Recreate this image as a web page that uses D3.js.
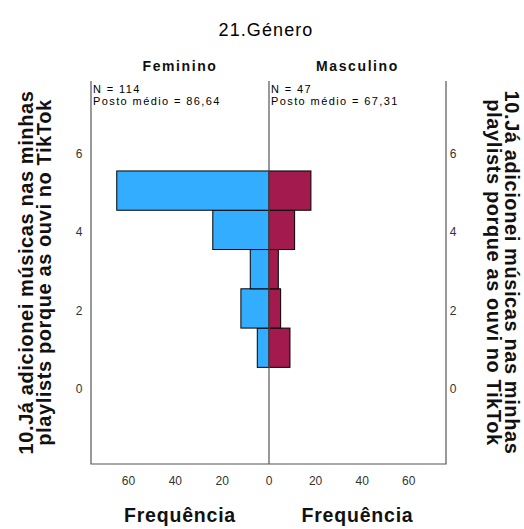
<!DOCTYPE html>
<html>
<head>
<meta charset="utf-8">
<script src="https://cdn.jsdelivr.net/npm/d3@7"></script>
<style>
body{margin:0;background:#fff}
text{font-family:"Liberation Sans",Arial,sans-serif}
</style>
</head>
<body>
<script>
// values
const categories=[1,2,3,4,5];
const feminino=[5,12,8,24,65];
const masculino=[9,5,4,11,18];
const groups=["Feminino","Masculino"];
const stats=[["N = 114","Posto médio = 86,64"],["N = 47","Posto médio = 67,31"]];
const yTicks=[0,2,4,6];
const xTicks=[0,20,40,60];
const title="21.Género";
const yTitle=["10.Já adicionei músicas nas minhas","playlists porque as ouvi no TikTok"];
const xTitle="Frequência";

const W=524,H=529;
const svg=d3.select("body").append("svg").attr("width",W).attr("height",H);

const y=d3.scaleLinear().domain([-1.96,7.79]).range([464,81]);
const xl=d3.scaleLinear().domain([0,76]).range([269,91]);
const xr=d3.scaleLinear().domain([0,76]).range([269,446]);

const blue="#33adff", maroon="#a21a4e";

// bars
const g=svg.append("g");
g.selectAll("rect.f").data(categories).enter().append("rect")
  .attr("x",(d,i)=>xl(feminino[i]))
  .attr("y",d=>y(d+0.5))
  .attr("width",(d,i)=>xl(0)-xl(feminino[i]))
  .attr("height",d=>y(d-0.5)-y(d+0.5))
  .attr("fill",blue).attr("stroke","#000").attr("stroke-width",1);
g.selectAll("rect.m").data(categories).enter().append("rect")
  .attr("x",xr(0))
  .attr("y",d=>y(d+0.5))
  .attr("width",(d,i)=>xr(masculino[i])-xr(0))
  .attr("height",d=>y(d-0.5)-y(d+0.5))
  .attr("fill",maroon).attr("stroke","#000").attr("stroke-width",1);

// frame
const frame="#555";
svg.append("path")
  .attr("d",`M${xl(76)},${y(7.79)}V${y(-1.96)}H${xr(76)}V${y(7.79)}M${xr(0)},${y(7.79)}V${y(-1.96)}`)
  .attr("fill","none").attr("stroke",frame).attr("stroke-width",1.2);

// y tick labels, both sides
[79,453].forEach(px=>{
  svg.selectAll(null).data(yTicks).enter().append("text")
    .attr("x",px).attr("y",d=>y(d)+6.3)
    .attr("text-anchor","middle").attr("font-size",12).attr("fill","#333")
    .text(d=>d);
});

// x tick labels
[xl,xr].forEach((sc,k)=>{
  svg.selectAll(null).data(k===0?xTicks:xTicks.slice(1)).enter().append("text")
    .attr("x",d=>sc(d)).attr("y",484.5)
    .attr("text-anchor","middle").attr("font-size",12).attr("fill","#333")
    .text(d=>d);
});

// title
svg.append("text").attr("x",266).attr("y",36).attr("text-anchor","middle")
  .attr("font-size",18).attr("letter-spacing",1.1).attr("fill","#000").text(title);

// group headers and stats
const cx=[(xl(76)+xl(0))/2,(xr(0)+xr(76))/2];
const lx=[xl(76)+2,xr(0)+2];
groups.forEach((gname,i)=>{
  svg.append("text").attr("x",cx[i]).attr("y",71).attr("text-anchor","middle")
    .attr("font-size",14).attr("font-weight","bold").attr("letter-spacing",1.6).attr("fill","#111").text(gname);
  stats[i].forEach((s,j)=>{
    svg.append("text").attr("x",lx[i]).attr("y",92.5+j*12.7)
      .attr("font-size",11).attr("letter-spacing",1.4).attr("fill","#000").text(s);
  });
  svg.append("text").attr("x",cx[i]).attr("y",522).attr("text-anchor","middle")
    .attr("font-size",19.5).attr("font-weight","bold").attr("letter-spacing",0.8).attr("fill","#111").text(xTitle);
});

// rotated axis titles
const cy=(y(7.79)+y(-1.96))/2;
yTitle.forEach((t,j)=>{
  svg.append("text").attr("transform",`translate(${33+j*18},${cy}) rotate(-90)`)
    .attr("text-anchor","middle").attr("font-size",20).attr("font-weight","bold")
    .attr("letter-spacing",0.6).attr("fill","#111").text(t);
  svg.append("text").attr("transform",`translate(${505-j*18},${cy}) rotate(90)`)
    .attr("text-anchor","middle").attr("font-size",20).attr("font-weight","bold")
    .attr("letter-spacing",0.6).attr("fill","#111").text(t);
});
</script>
</body>
</html>
